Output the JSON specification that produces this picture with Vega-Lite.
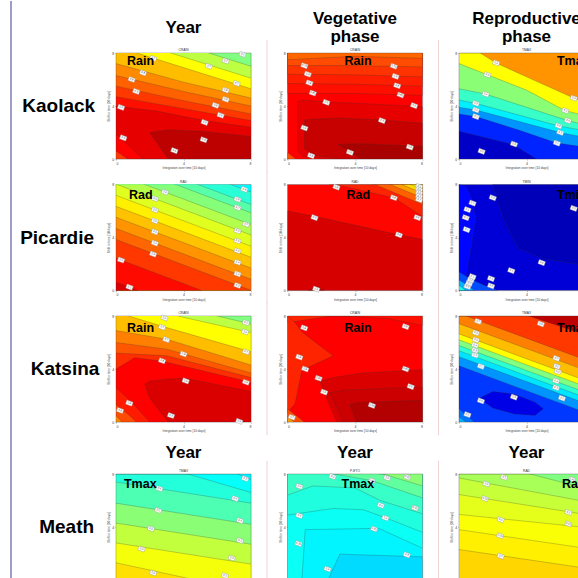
{
"$schema": "https://vega.github.io/schema/vega-lite/v6.json",
"padding": {"left": 10, "top": 0, "right": 0, "bottom": 0},
"background": "white",
"config": {
  "font": "Liberation Sans",
  "view": {"stroke": "#777", "strokeWidth": 0.6},
  "axis": {"labelFontSize": 3.5, "titleFontSize": 3.2, "labelPadding": 1, "titlePadding": 1, "tickSize": 1.2, "tickWidth": 0.4, "domain": false, "grid": false, "labelColor": "#444", "titleColor": "#444", "titleFontWeight": "normal", "tickColor": "#666", "labelFont": "Liberation Sans", "titleFont": "Liberation Sans"}
},
"datasets": {"d": [
{"k":"r","s":"Kaolack","p":"Year","g":0,"v":0.5,"x":0,"lo":0,"hi":8},{"k":"r","s":"Kaolack","p":"Year","g":0,"v":0.5,"x":8,"lo":0,"hi":8},
{"k":"r","s":"Kaolack","p":"Year","g":1,"v":0.56,"x":0,"lo":0,"hi":10.2},{"k":"r","s":"Kaolack","p":"Year","g":1,"v":0.56,"x":8,"lo":0,"hi":7.0},
{"k":"r","s":"Kaolack","p":"Year","g":2,"v":0.625,"x":0,"lo":0,"hi":9.3},{"k":"r","s":"Kaolack","p":"Year","g":2,"v":0.625,"x":8,"lo":0,"hi":6.1},
{"k":"r","s":"Kaolack","p":"Year","g":3,"v":0.69,"x":0,"lo":0,"hi":8.5},{"k":"r","s":"Kaolack","p":"Year","g":3,"v":0.69,"x":8,"lo":0,"hi":5.3},
{"k":"r","s":"Kaolack","p":"Year","g":4,"v":0.74,"x":0,"lo":0,"hi":7.2},{"k":"r","s":"Kaolack","p":"Year","g":4,"v":0.74,"x":4,"lo":0,"hi":5.8},{"k":"r","s":"Kaolack","p":"Year","g":4,"v":0.74,"x":8,"lo":0,"hi":4.6},
{"k":"r","s":"Kaolack","p":"Year","g":5,"v":0.78,"x":0,"lo":0,"hi":6.3},{"k":"r","s":"Kaolack","p":"Year","g":5,"v":0.78,"x":4,"lo":0,"hi":5.1},{"k":"r","s":"Kaolack","p":"Year","g":5,"v":0.78,"x":8,"lo":0,"hi":4.0},
{"k":"r","s":"Kaolack","p":"Year","g":6,"v":0.82,"x":0,"lo":0,"hi":5.5},{"k":"r","s":"Kaolack","p":"Year","g":6,"v":0.82,"x":4,"lo":0,"hi":4.4},{"k":"r","s":"Kaolack","p":"Year","g":6,"v":0.82,"x":8,"lo":0,"hi":3.4},
{"k":"r","s":"Kaolack","p":"Year","g":7,"v":0.86,"x":0,"lo":0,"hi":4.7},{"k":"r","s":"Kaolack","p":"Year","g":7,"v":0.86,"x":4,"lo":0,"hi":3.8},{"k":"r","s":"Kaolack","p":"Year","g":7,"v":0.86,"x":8,"lo":0,"hi":2.9},
{"k":"r","s":"Kaolack","p":"Year","g":8,"v":0.9,"x":0,"lo":0,"hi":4.0},{"k":"r","s":"Kaolack","p":"Year","g":8,"v":0.9,"x":2.5,"lo":0,"hi":3.6},{"k":"r","s":"Kaolack","p":"Year","g":8,"v":0.9,"x":5.25,"lo":0,"hi":2.9},{"k":"r","s":"Kaolack","p":"Year","g":8,"v":0.9,"x":8,"lo":0,"hi":2.4},
{"k":"r","s":"Kaolack","p":"Year","g":9,"v":0.94,"x":2,"lo":2,"hi":2},{"k":"r","s":"Kaolack","p":"Year","g":9,"v":0.94,"x":3.1,"lo":0,"hi":2.2},{"k":"r","s":"Kaolack","p":"Year","g":9,"v":0.94,"x":5,"lo":0,"hi":2.1},{"k":"r","s":"Kaolack","p":"Year","g":9,"v":0.94,"x":8,"lo":0,"hi":1.7},
{"k":"r","s":"Kaolack","p":"Year","g":10,"v":0.875,"x":0,"lo":0,"hi":1.9},{"k":"r","s":"Kaolack","p":"Year","g":10,"v":0.875,"x":1.6,"lo":0,"hi":0},
{"k":"r","s":"Kaolack","p":"Year","g":11,"v":0.82,"x":0,"lo":0,"hi":0.6},{"k":"r","s":"Kaolack","p":"Year","g":11,"v":0.82,"x":0.7,"lo":0,"hi":0},

{"k":"r","s":"Kaolack","p":"Vegetative phase","g":0,"v":0.875,"x":0,"lo":0,"hi":8},{"k":"r","s":"Kaolack","p":"Vegetative phase","g":0,"v":0.875,"x":8,"lo":0,"hi":8},
{"k":"r","s":"Kaolack","p":"Vegetative phase","g":1,"v":0.86,"x":0,"lo":4.95,"hi":8},{"k":"r","s":"Kaolack","p":"Vegetative phase","g":1,"v":0.86,"x":4,"lo":4.95,"hi":8},{"k":"r","s":"Kaolack","p":"Vegetative phase","g":1,"v":0.86,"x":8,"lo":4.8,"hi":8},
{"k":"r","s":"Kaolack","p":"Vegetative phase","g":2,"v":0.845,"x":0,"lo":5.7,"hi":8},{"k":"r","s":"Kaolack","p":"Vegetative phase","g":2,"v":0.845,"x":4,"lo":5.65,"hi":8},{"k":"r","s":"Kaolack","p":"Vegetative phase","g":2,"v":0.845,"x":8,"lo":5.5,"hi":8},
{"k":"r","s":"Kaolack","p":"Vegetative phase","g":3,"v":0.825,"x":0,"lo":6.4,"hi":8},{"k":"r","s":"Kaolack","p":"Vegetative phase","g":3,"v":0.825,"x":4,"lo":6.35,"hi":8},{"k":"r","s":"Kaolack","p":"Vegetative phase","g":3,"v":0.825,"x":8,"lo":6.2,"hi":8},
{"k":"r","s":"Kaolack","p":"Vegetative phase","g":4,"v":0.8,"x":0,"lo":7.05,"hi":8},{"k":"r","s":"Kaolack","p":"Vegetative phase","g":4,"v":0.8,"x":4,"lo":7.05,"hi":8},{"k":"r","s":"Kaolack","p":"Vegetative phase","g":4,"v":0.8,"x":8,"lo":6.95,"hi":8},
{"k":"r","s":"Kaolack","p":"Vegetative phase","g":5,"v":0.775,"x":0,"lo":7.5,"hi":8},{"k":"r","s":"Kaolack","p":"Vegetative phase","g":5,"v":0.775,"x":4,"lo":7.75,"hi":8},{"k":"r","s":"Kaolack","p":"Vegetative phase","g":5,"v":0.775,"x":8,"lo":7.6,"hi":8},
{"k":"r","s":"Kaolack","p":"Vegetative phase","g":6,"v":0.9,"x":0.6,"lo":0.6,"hi":4.3},{"k":"r","s":"Kaolack","p":"Vegetative phase","g":6,"v":0.9,"x":0.9,"lo":0.2,"hi":4.45},{"k":"r","s":"Kaolack","p":"Vegetative phase","g":6,"v":0.9,"x":2.3,"lo":0,"hi":4.3},{"k":"r","s":"Kaolack","p":"Vegetative phase","g":6,"v":0.9,"x":5,"lo":0,"hi":4.15},{"k":"r","s":"Kaolack","p":"Vegetative phase","g":6,"v":0.9,"x":8,"lo":0,"hi":3.95},
{"k":"r","s":"Kaolack","p":"Vegetative phase","g":7,"v":0.93,"x":1,"lo":0.8,"hi":2.95},{"k":"r","s":"Kaolack","p":"Vegetative phase","g":7,"v":0.93,"x":1.5,"lo":0.3,"hi":3.0},{"k":"r","s":"Kaolack","p":"Vegetative phase","g":7,"v":0.93,"x":3,"lo":0,"hi":3.1},{"k":"r","s":"Kaolack","p":"Vegetative phase","g":7,"v":0.93,"x":5.6,"lo":0,"hi":2.95},{"k":"r","s":"Kaolack","p":"Vegetative phase","g":7,"v":0.93,"x":8,"lo":0,"hi":2.7},
{"k":"r","s":"Kaolack","p":"Vegetative phase","g":8,"v":0.96,"x":3,"lo":1.1,"hi":1.1},{"k":"r","s":"Kaolack","p":"Vegetative phase","g":8,"v":0.96,"x":4.4,"lo":0,"hi":1.15},{"k":"r","s":"Kaolack","p":"Vegetative phase","g":8,"v":0.96,"x":8,"lo":0,"hi":0.95},
{"k":"r","s":"Kaolack","p":"Vegetative phase","g":9,"v":0.8,"x":0,"lo":0,"hi":0.5},{"k":"r","s":"Kaolack","p":"Vegetative phase","g":9,"v":0.8,"x":0.5,"lo":0,"hi":0},

{"k":"r","s":"Kaolack","p":"Reproductive phase","g":0,"v":0.07,"x":0,"lo":0,"hi":8},{"k":"r","s":"Kaolack","p":"Reproductive phase","g":0,"v":0.07,"x":8,"lo":0,"hi":8},
{"k":"r","s":"Kaolack","p":"Reproductive phase","g":1,"v":0.16,"x":0,"lo":2.1,"hi":8},{"k":"r","s":"Kaolack","p":"Reproductive phase","g":1,"v":0.16,"x":3.2,"lo":1.1,"hi":8},{"k":"r","s":"Kaolack","p":"Reproductive phase","g":1,"v":0.16,"x":4.6,"lo":0,"hi":8},{"k":"r","s":"Kaolack","p":"Reproductive phase","g":1,"v":0.16,"x":8,"lo":0,"hi":8},
{"k":"r","s":"Kaolack","p":"Reproductive phase","g":2,"v":0.27,"x":0,"lo":3.4,"hi":8},{"k":"r","s":"Kaolack","p":"Reproductive phase","g":2,"v":0.27,"x":1,"lo":3.2,"hi":8},{"k":"r","s":"Kaolack","p":"Reproductive phase","g":2,"v":0.27,"x":3.5,"lo":2.2,"hi":8},{"k":"r","s":"Kaolack","p":"Reproductive phase","g":2,"v":0.27,"x":5.8,"lo":1.2,"hi":8},{"k":"r","s":"Kaolack","p":"Reproductive phase","g":2,"v":0.27,"x":8,"lo":0.8,"hi":8},
{"k":"r","s":"Kaolack","p":"Reproductive phase","g":3,"v":0.36,"x":0,"lo":3.9,"hi":8},{"k":"r","s":"Kaolack","p":"Reproductive phase","g":3,"v":0.36,"x":1,"lo":3.7,"hi":8},{"k":"r","s":"Kaolack","p":"Reproductive phase","g":3,"v":0.36,"x":6,"lo":2.0,"hi":8},{"k":"r","s":"Kaolack","p":"Reproductive phase","g":3,"v":0.36,"x":8,"lo":1.5,"hi":8},
{"k":"r","s":"Kaolack","p":"Reproductive phase","g":4,"v":0.43,"x":0,"lo":4.45,"hi":8},{"k":"r","s":"Kaolack","p":"Reproductive phase","g":4,"v":0.43,"x":1,"lo":4.2,"hi":8},{"k":"r","s":"Kaolack","p":"Reproductive phase","g":4,"v":0.43,"x":5.9,"lo":2.5,"hi":8},{"k":"r","s":"Kaolack","p":"Reproductive phase","g":4,"v":0.43,"x":8,"lo":2.0,"hi":8},
{"k":"r","s":"Kaolack","p":"Reproductive phase","g":5,"v":0.51,"x":0,"lo":5.3,"hi":8},{"k":"r","s":"Kaolack","p":"Reproductive phase","g":5,"v":0.51,"x":1.58,"lo":4.9,"hi":8},{"k":"r","s":"Kaolack","p":"Reproductive phase","g":5,"v":0.51,"x":6.45,"lo":2.9,"hi":8},{"k":"r","s":"Kaolack","p":"Reproductive phase","g":5,"v":0.51,"x":8,"lo":2.4,"hi":8},
{"k":"r","s":"Kaolack","p":"Reproductive phase","g":6,"v":0.625,"x":0,"lo":7.2,"hi":8},{"k":"r","s":"Kaolack","p":"Reproductive phase","g":6,"v":0.625,"x":1.68,"lo":6.36,"hi":8},{"k":"r","s":"Kaolack","p":"Reproductive phase","g":6,"v":0.625,"x":4,"lo":5.2,"hi":8},{"k":"r","s":"Kaolack","p":"Reproductive phase","g":6,"v":0.625,"x":6.3,"lo":3.65,"hi":8},{"k":"r","s":"Kaolack","p":"Reproductive phase","g":6,"v":0.625,"x":8,"lo":3.1,"hi":8},
{"k":"r","s":"Kaolack","p":"Reproductive phase","g":7,"v":0.73,"x":0,"lo":9,"hi":8},{"k":"r","s":"Kaolack","p":"Reproductive phase","g":7,"v":0.73,"x":2.2,"lo":7.25,"hi":8},{"k":"r","s":"Kaolack","p":"Reproductive phase","g":7,"v":0.73,"x":4,"lo":6.2,"hi":8},{"k":"r","s":"Kaolack","p":"Reproductive phase","g":7,"v":0.73,"x":6.8,"lo":4.6,"hi":8},{"k":"r","s":"Kaolack","p":"Reproductive phase","g":7,"v":0.73,"x":8,"lo":4.1,"hi":8},

{"k":"r","s":"Picardie","p":"Year","g":0,"v":0.37,"x":0,"lo":0,"hi":8},{"k":"r","s":"Picardie","p":"Year","g":0,"v":0.37,"x":8,"lo":0,"hi":8},
{"k":"r","s":"Picardie","p":"Year","g":1,"v":0.415,"x":0,"lo":0,"hi":11.27},{"k":"r","s":"Picardie","p":"Year","g":1,"v":0.415,"x":8,"lo":0,"hi":7.43},
{"k":"r","s":"Picardie","p":"Year","g":2,"v":0.46,"x":0,"lo":0,"hi":10.33},{"k":"r","s":"Picardie","p":"Year","g":2,"v":0.46,"x":8,"lo":0,"hi":6.49},
{"k":"r","s":"Picardie","p":"Year","g":3,"v":0.505,"x":0,"lo":0,"hi":9.7},{"k":"r","s":"Picardie","p":"Year","g":3,"v":0.505,"x":8,"lo":0,"hi":5.86},
{"k":"r","s":"Picardie","p":"Year","g":4,"v":0.55,"x":0,"lo":0,"hi":8.82},{"k":"r","s":"Picardie","p":"Year","g":4,"v":0.55,"x":8,"lo":0,"hi":4.98},
{"k":"r","s":"Picardie","p":"Year","g":5,"v":0.595,"x":0,"lo":0,"hi":8.03},{"k":"r","s":"Picardie","p":"Year","g":5,"v":0.595,"x":8,"lo":0,"hi":4.19},
{"k":"r","s":"Picardie","p":"Year","g":6,"v":0.64,"x":0,"lo":0,"hi":7.18},{"k":"r","s":"Picardie","p":"Year","g":6,"v":0.64,"x":8,"lo":0,"hi":3.34},
{"k":"r","s":"Picardie","p":"Year","g":7,"v":0.685,"x":0,"lo":0,"hi":6.35},{"k":"r","s":"Picardie","p":"Year","g":7,"v":0.685,"x":8,"lo":0,"hi":2.51},
{"k":"r","s":"Picardie","p":"Year","g":8,"v":0.73,"x":0,"lo":0,"hi":5.53},{"k":"r","s":"Picardie","p":"Year","g":8,"v":0.73,"x":8,"lo":0,"hi":1.69},
{"k":"r","s":"Picardie","p":"Year","g":9,"v":0.775,"x":0,"lo":0,"hi":4.68},{"k":"r","s":"Picardie","p":"Year","g":9,"v":0.775,"x":8,"lo":0,"hi":0.84},
{"k":"r","s":"Picardie","p":"Year","g":10,"v":0.82,"x":0,"lo":0,"hi":3.85},{"k":"r","s":"Picardie","p":"Year","g":10,"v":0.82,"x":8,"lo":0,"hi":0.01},
{"k":"r","s":"Picardie","p":"Year","g":11,"v":0.865,"x":0,"lo":0,"hi":2.44},{"k":"r","s":"Picardie","p":"Year","g":11,"v":0.865,"x":5.08,"lo":0,"hi":0},
{"k":"r","s":"Picardie","p":"Year","g":12,"v":0.91,"x":0,"lo":0,"hi":0.63},{"k":"r","s":"Picardie","p":"Year","g":12,"v":0.91,"x":1.3,"lo":0,"hi":0},

{"k":"r","s":"Picardie","p":"Vegetative phase","g":0,"v":0.87,"x":0,"lo":0,"hi":8},{"k":"r","s":"Picardie","p":"Vegetative phase","g":0,"v":0.87,"x":8,"lo":0,"hi":8},
{"k":"r","s":"Picardie","p":"Vegetative phase","g":1,"v":0.915,"x":0,"lo":0,"hi":6.0},{"k":"r","s":"Picardie","p":"Vegetative phase","g":1,"v":0.915,"x":1.6,"lo":0,"hi":5.6},{"k":"r","s":"Picardie","p":"Vegetative phase","g":1,"v":0.915,"x":6.6,"lo":0,"hi":4.2},{"k":"r","s":"Picardie","p":"Vegetative phase","g":1,"v":0.915,"x":8,"lo":0,"hi":3.85},
{"k":"r","s":"Picardie","p":"Vegetative phase","g":2,"v":0.94,"x":1.2,"lo":0,"hi":0},{"k":"r","s":"Picardie","p":"Vegetative phase","g":2,"v":0.94,"x":1.7,"lo":0,"hi":0.25},{"k":"r","s":"Picardie","p":"Vegetative phase","g":2,"v":0.94,"x":2.2,"lo":0,"hi":0},
{"k":"r","s":"Picardie","p":"Vegetative phase","g":3,"v":0.84,"x":2.5,"lo":8.1,"hi":8},{"k":"r","s":"Picardie","p":"Vegetative phase","g":3,"v":0.84,"x":6.3,"lo":7.0,"hi":8},{"k":"r","s":"Picardie","p":"Vegetative phase","g":3,"v":0.84,"x":8,"lo":5.6,"hi":8},
{"k":"r","s":"Picardie","p":"Vegetative phase","g":4,"v":0.78,"x":5.0,"lo":8.1,"hi":8},{"k":"r","s":"Picardie","p":"Vegetative phase","g":4,"v":0.78,"x":8,"lo":6.5,"hi":8},
{"k":"r","s":"Picardie","p":"Vegetative phase","g":5,"v":0.72,"x":5.9,"lo":8.1,"hi":8},{"k":"r","s":"Picardie","p":"Vegetative phase","g":5,"v":0.72,"x":8,"lo":7.0,"hi":8},
{"k":"r","s":"Picardie","p":"Vegetative phase","g":6,"v":0.66,"x":6.6,"lo":8.1,"hi":8},{"k":"r","s":"Picardie","p":"Vegetative phase","g":6,"v":0.66,"x":8,"lo":7.35,"hi":8},
{"k":"r","s":"Picardie","p":"Vegetative phase","g":7,"v":0.6,"x":7.1,"lo":8.1,"hi":8},{"k":"r","s":"Picardie","p":"Vegetative phase","g":7,"v":0.6,"x":8,"lo":7.65,"hi":8},
{"k":"r","s":"Picardie","p":"Vegetative phase","g":8,"v":0.53,"x":7.6,"lo":8.1,"hi":8},{"k":"r","s":"Picardie","p":"Vegetative phase","g":8,"v":0.53,"x":8,"lo":7.9,"hi":8},

{"k":"r","s":"Picardie","p":"Reproductive phase","g":0,"v":0.085,"x":0,"lo":0,"hi":8},{"k":"r","s":"Picardie","p":"Reproductive phase","g":0,"v":0.085,"x":8,"lo":0,"hi":8},
{"k":"r","s":"Picardie","p":"Reproductive phase","g":1,"v":0.055,"x":2,"lo":7.9,"hi":8},{"k":"r","s":"Picardie","p":"Reproductive phase","g":1,"v":0.055,"x":2.6,"lo":5.5,"hi":8},{"k":"r","s":"Picardie","p":"Reproductive phase","g":1,"v":0.055,"x":3.5,"lo":3.2,"hi":8},{"k":"r","s":"Picardie","p":"Reproductive phase","g":1,"v":0.055,"x":5,"lo":2.4,"hi":8},{"k":"r","s":"Picardie","p":"Reproductive phase","g":1,"v":0.055,"x":8,"lo":1.8,"hi":8},
{"k":"r","s":"Picardie","p":"Reproductive phase","g":2,"v":0.13,"x":0,"lo":0,"hi":8},{"k":"r","s":"Picardie","p":"Reproductive phase","g":2,"v":0.13,"x":0.4,"lo":0.8,"hi":7.9},{"k":"r","s":"Picardie","p":"Reproductive phase","g":2,"v":0.13,"x":0.75,"lo":3.5,"hi":7.0},{"k":"r","s":"Picardie","p":"Reproductive phase","g":2,"v":0.13,"x":1,"lo":5.5,"hi":5.5},
{"k":"r","s":"Picardie","p":"Reproductive phase","g":3,"v":0.2,"x":0,"lo":0,"hi":1.4},{"k":"r","s":"Picardie","p":"Reproductive phase","g":3,"v":0.2,"x":0.8,"lo":0,"hi":0.8},{"k":"r","s":"Picardie","p":"Reproductive phase","g":3,"v":0.2,"x":1.5,"lo":0,"hi":0.4},{"k":"r","s":"Picardie","p":"Reproductive phase","g":3,"v":0.2,"x":2.3,"lo":0,"hi":0},
{"k":"r","s":"Picardie","p":"Reproductive phase","g":4,"v":0.3,"x":0,"lo":0,"hi":0.8},{"k":"r","s":"Picardie","p":"Reproductive phase","g":4,"v":0.3,"x":0.5,"lo":0,"hi":0.4},{"k":"r","s":"Picardie","p":"Reproductive phase","g":4,"v":0.3,"x":0.9,"lo":0,"hi":0},
{"k":"r","s":"Picardie","p":"Reproductive phase","g":5,"v":0.4,"x":0,"lo":0,"hi":0.4},{"k":"r","s":"Picardie","p":"Reproductive phase","g":5,"v":0.4,"x":0.4,"lo":0,"hi":0},

{"k":"r","s":"Katsina","p":"Year","g":0,"v":0.5,"x":0,"lo":0,"hi":8},{"k":"r","s":"Katsina","p":"Year","g":0,"v":0.5,"x":8,"lo":0,"hi":8},
{"k":"r","s":"Katsina","p":"Year","g":1,"v":0.56,"x":0,"lo":0,"hi":10},{"k":"r","s":"Katsina","p":"Year","g":1,"v":0.56,"x":4,"lo":0,"hi":8.6},{"k":"r","s":"Katsina","p":"Year","g":1,"v":0.56,"x":8,"lo":0,"hi":7.4},
{"k":"r","s":"Katsina","p":"Year","g":2,"v":0.625,"x":0,"lo":0,"hi":9.2},{"k":"r","s":"Katsina","p":"Year","g":2,"v":0.625,"x":4,"lo":0,"hi":7.9},{"k":"r","s":"Katsina","p":"Year","g":2,"v":0.625,"x":8,"lo":0,"hi":6.75},
{"k":"r","s":"Katsina","p":"Year","g":3,"v":0.69,"x":0,"lo":0,"hi":8.3},{"k":"r","s":"Katsina","p":"Year","g":3,"v":0.69,"x":2.8,"lo":0,"hi":7.2},{"k":"r","s":"Katsina","p":"Year","g":3,"v":0.69,"x":8,"lo":0,"hi":5.3},
{"k":"r","s":"Katsina","p":"Year","g":4,"v":0.75,"x":0,"lo":0,"hi":6.9},{"k":"r","s":"Katsina","p":"Year","g":4,"v":0.75,"x":3,"lo":0,"hi":6.25},{"k":"r","s":"Katsina","p":"Year","g":4,"v":0.75,"x":8,"lo":0,"hi":4.3},
{"k":"r","s":"Katsina","p":"Year","g":5,"v":0.79,"x":0,"lo":0,"hi":6.0},{"k":"r","s":"Katsina","p":"Year","g":5,"v":0.79,"x":3,"lo":0,"hi":5.5},{"k":"r","s":"Katsina","p":"Year","g":5,"v":0.79,"x":8,"lo":0,"hi":3.7},
{"k":"r","s":"Katsina","p":"Year","g":6,"v":0.83,"x":0,"lo":0,"hi":5.2},{"k":"r","s":"Katsina","p":"Year","g":6,"v":0.83,"x":3,"lo":0,"hi":5.0},{"k":"r","s":"Katsina","p":"Year","g":6,"v":0.83,"x":8,"lo":0,"hi":3.35},
{"k":"r","s":"Katsina","p":"Year","g":7,"v":0.875,"x":0,"lo":0,"hi":4.0},{"k":"r","s":"Katsina","p":"Year","g":7,"v":0.875,"x":1.1,"lo":0,"hi":4.85},{"k":"r","s":"Katsina","p":"Year","g":7,"v":0.875,"x":2.7,"lo":0,"hi":4.6},{"k":"r","s":"Katsina","p":"Year","g":7,"v":0.875,"x":8,"lo":0,"hi":3.0},
{"k":"r","s":"Katsina","p":"Year","g":8,"v":0.91,"x":1.7,"lo":2.85,"hi":2.85},{"k":"r","s":"Katsina","p":"Year","g":8,"v":0.91,"x":2,"lo":1.8,"hi":3.1},{"k":"r","s":"Katsina","p":"Year","g":8,"v":0.91,"x":3.1,"lo":0,"hi":3.25},{"k":"r","s":"Katsina","p":"Year","g":8,"v":0.91,"x":4.1,"lo":0,"hi":3.3},{"k":"r","s":"Katsina","p":"Year","g":8,"v":0.91,"x":8,"lo":0,"hi":2.3},
{"k":"r","s":"Katsina","p":"Year","g":9,"v":0.85,"x":0,"lo":0,"hi":2.6},{"k":"r","s":"Katsina","p":"Year","g":9,"v":0.85,"x":1,"lo":0,"hi":1.4},{"k":"r","s":"Katsina","p":"Year","g":9,"v":0.85,"x":2,"lo":0,"hi":0},
{"k":"r","s":"Katsina","p":"Year","g":10,"v":0.8,"x":0,"lo":0,"hi":1.3},{"k":"r","s":"Katsina","p":"Year","g":10,"v":0.8,"x":0.8,"lo":0,"hi":0.5},{"k":"r","s":"Katsina","p":"Year","g":10,"v":0.8,"x":1.2,"lo":0,"hi":0},
{"k":"r","s":"Katsina","p":"Year","g":11,"v":0.74,"x":0,"lo":0,"hi":0.5},{"k":"r","s":"Katsina","p":"Year","g":11,"v":0.74,"x":0.35,"lo":0,"hi":0},

{"k":"r","s":"Katsina","p":"Vegetative phase","g":0,"v":0.875,"x":0,"lo":0,"hi":8},{"k":"r","s":"Katsina","p":"Vegetative phase","g":0,"v":0.875,"x":8,"lo":0,"hi":8},
{"k":"r","s":"Katsina","p":"Vegetative phase","g":1,"v":0.84,"x":0,"lo":7.5,"hi":8},{"k":"r","s":"Katsina","p":"Vegetative phase","g":1,"v":0.84,"x":2.8,"lo":8.05,"hi":8},
{"k":"r","s":"Katsina","p":"Vegetative phase","g":2,"v":0.86,"x":2.8,"lo":8.05,"hi":8},{"k":"r","s":"Katsina","p":"Vegetative phase","g":2,"v":0.86,"x":6,"lo":7.8,"hi":8},{"k":"r","s":"Katsina","p":"Vegetative phase","g":2,"v":0.86,"x":8,"lo":7.3,"hi":8},
{"k":"r","s":"Katsina","p":"Vegetative phase","g":3,"v":0.84,"x":0,"lo":0.7,"hi":8},{"k":"r","s":"Katsina","p":"Vegetative phase","g":3,"v":0.84,"x":0.45,"lo":1.4,"hi":7.5},{"k":"r","s":"Katsina","p":"Vegetative phase","g":3,"v":0.84,"x":0.85,"lo":3.9,"hi":6.8},{"k":"r","s":"Katsina","p":"Vegetative phase","g":3,"v":0.84,"x":2.7,"lo":5,"hi":5},
{"k":"r","s":"Katsina","p":"Vegetative phase","g":4,"v":0.91,"x":1.9,"lo":3.1,"hi":3.1},{"k":"r","s":"Katsina","p":"Vegetative phase","g":4,"v":0.91,"x":2.9,"lo":0,"hi":3.4},{"k":"r","s":"Katsina","p":"Vegetative phase","g":4,"v":0.91,"x":4.4,"lo":0,"hi":3.7},{"k":"r","s":"Katsina","p":"Vegetative phase","g":4,"v":0.91,"x":8,"lo":0,"hi":3.95},
{"k":"r","s":"Katsina","p":"Vegetative phase","g":5,"v":0.925,"x":2.5,"lo":2.2,"hi":2.2},{"k":"r","s":"Katsina","p":"Vegetative phase","g":5,"v":0.925,"x":3.3,"lo":0,"hi":2.4},{"k":"r","s":"Katsina","p":"Vegetative phase","g":5,"v":0.925,"x":8,"lo":0,"hi":2.65},
{"k":"r","s":"Katsina","p":"Vegetative phase","g":6,"v":0.95,"x":3.7,"lo":1.3,"hi":1.3},{"k":"r","s":"Katsina","p":"Vegetative phase","g":6,"v":0.95,"x":4.1,"lo":0,"hi":1.45},{"k":"r","s":"Katsina","p":"Vegetative phase","g":6,"v":0.95,"x":8,"lo":0,"hi":1.65},
{"k":"r","s":"Katsina","p":"Vegetative phase","g":7,"v":0.8,"x":0,"lo":0,"hi":1},{"k":"r","s":"Katsina","p":"Vegetative phase","g":7,"v":0.8,"x":1,"lo":0,"hi":0},
{"k":"r","s":"Katsina","p":"Vegetative phase","g":8,"v":0.72,"x":0,"lo":0,"hi":0.4},{"k":"r","s":"Katsina","p":"Vegetative phase","g":8,"v":0.72,"x":0.4,"lo":0,"hi":0},

{"k":"r","s":"Katsina","p":"Reproductive phase","g":0,"v":0.18,"x":0,"lo":0,"hi":8},{"k":"r","s":"Katsina","p":"Reproductive phase","g":0,"v":0.18,"x":8,"lo":0,"hi":8},
{"k":"r","s":"Katsina","p":"Reproductive phase","g":1,"v":0.1,"x":1.2,"lo":1.8,"hi":1.8},{"k":"r","s":"Katsina","p":"Reproductive phase","g":1,"v":0.1,"x":2,"lo":1.05,"hi":2.3},{"k":"r","s":"Katsina","p":"Reproductive phase","g":1,"v":0.1,"x":3.3,"lo":0.6,"hi":2.1},{"k":"r","s":"Katsina","p":"Reproductive phase","g":1,"v":0.1,"x":4.5,"lo":0.5,"hi":1.5},{"k":"r","s":"Katsina","p":"Reproductive phase","g":1,"v":0.1,"x":5,"lo":1,"hi":1},
{"k":"r","s":"Katsina","p":"Reproductive phase","g":2,"v":0.24,"x":0,"lo":0,"hi":1},{"k":"r","s":"Katsina","p":"Reproductive phase","g":2,"v":0.24,"x":0.9,"lo":0,"hi":0},
{"k":"r","s":"Katsina","p":"Reproductive phase","g":3,"v":0.3,"x":0,"lo":0,"hi":0.4},{"k":"r","s":"Katsina","p":"Reproductive phase","g":3,"v":0.3,"x":0.4,"lo":0,"hi":0},
{"k":"r","s":"Katsina","p":"Reproductive phase","g":4,"v":0.27,"x":0,"lo":4.24,"hi":8},{"k":"r","s":"Katsina","p":"Reproductive phase","g":4,"v":0.27,"x":8,"lo":0.48,"hi":8},
{"k":"r","s":"Katsina","p":"Reproductive phase","g":5,"v":0.35,"x":0,"lo":4.93,"hi":8},{"k":"r","s":"Katsina","p":"Reproductive phase","g":5,"v":0.35,"x":8,"lo":1.17,"hi":8},
{"k":"r","s":"Katsina","p":"Reproductive phase","g":6,"v":0.42,"x":0,"lo":5.38,"hi":8},{"k":"r","s":"Katsina","p":"Reproductive phase","g":6,"v":0.42,"x":8,"lo":1.6,"hi":8},
{"k":"r","s":"Katsina","p":"Reproductive phase","g":7,"v":0.5,"x":0,"lo":5.77,"hi":8},{"k":"r","s":"Katsina","p":"Reproductive phase","g":7,"v":0.5,"x":8,"lo":2.0,"hi":8},
{"k":"r","s":"Katsina","p":"Reproductive phase","g":8,"v":0.625,"x":0,"lo":6.2,"hi":8},{"k":"r","s":"Katsina","p":"Reproductive phase","g":8,"v":0.625,"x":8,"lo":2.44,"hi":8},
{"k":"r","s":"Katsina","p":"Reproductive phase","g":9,"v":0.69,"x":0,"lo":6.65,"hi":8},{"k":"r","s":"Katsina","p":"Reproductive phase","g":9,"v":0.69,"x":8,"lo":2.89,"hi":8},
{"k":"r","s":"Katsina","p":"Reproductive phase","g":10,"v":0.75,"x":0,"lo":7.42,"hi":8},{"k":"r","s":"Katsina","p":"Reproductive phase","g":10,"v":0.75,"x":8,"lo":3.66,"hi":8},
{"k":"r","s":"Katsina","p":"Reproductive phase","g":11,"v":0.82,"x":0,"lo":8.2,"hi":8},{"k":"r","s":"Katsina","p":"Reproductive phase","g":11,"v":0.82,"x":8,"lo":4.44,"hi":8},
{"k":"r","s":"Katsina","p":"Reproductive phase","g":12,"v":0.94,"x":0,"lo":9.74,"hi":8},{"k":"r","s":"Katsina","p":"Reproductive phase","g":12,"v":0.94,"x":8,"lo":6.38,"hi":8},

{"k":"r","s":"Meath","p":"Year (Tmax)","g":0,"v":0.655,"x":0,"lo":0,"hi":8},{"k":"r","s":"Meath","p":"Year (Tmax)","g":0,"v":0.655,"x":8,"lo":0,"hi":8},
{"k":"r","s":"Meath","p":"Year (Tmax)","g":1,"v":0.615,"x":0,"lo":1.3,"hi":8},{"k":"r","s":"Meath","p":"Year (Tmax)","g":1,"v":0.615,"x":8,"lo":-0.9,"hi":8},
{"k":"r","s":"Meath","p":"Year (Tmax)","g":2,"v":0.565,"x":0,"lo":2.8,"hi":8},{"k":"r","s":"Meath","p":"Year (Tmax)","g":2,"v":0.565,"x":8,"lo":1.2,"hi":8},
{"k":"r","s":"Meath","p":"Year (Tmax)","g":3,"v":0.51,"x":0,"lo":4.3,"hi":8},{"k":"r","s":"Meath","p":"Year (Tmax)","g":3,"v":0.51,"x":8,"lo":2.7,"hi":8},
{"k":"r","s":"Meath","p":"Year (Tmax)","g":4,"v":0.45,"x":0,"lo":5.8,"hi":8},{"k":"r","s":"Meath","p":"Year (Tmax)","g":4,"v":0.45,"x":8,"lo":4.2,"hi":8},
{"k":"r","s":"Meath","p":"Year (Tmax)","g":5,"v":0.41,"x":0,"lo":7.4,"hi":8},{"k":"r","s":"Meath","p":"Year (Tmax)","g":5,"v":0.41,"x":8,"lo":5.8,"hi":8},
{"k":"r","s":"Meath","p":"Year (Tmax)","g":6,"v":0.38,"x":0,"lo":9.6,"hi":8},{"k":"r","s":"Meath","p":"Year (Tmax)","g":6,"v":0.38,"x":8,"lo":6.6,"hi":8},
{"k":"r","s":"Meath","p":"Year (Tmax)","g":7,"v":0.36,"x":0,"lo":11.6,"hi":8},{"k":"r","s":"Meath","p":"Year (Tmax)","g":7,"v":0.36,"x":8,"lo":7.6,"hi":8},

{"k":"r","s":"Meath","p":"Year (P-ETo)","g":0,"v":0.365,"x":0,"lo":0,"hi":8},{"k":"r","s":"Meath","p":"Year (P-ETo)","g":0,"v":0.365,"x":8,"lo":0,"hi":8},
{"k":"r","s":"Meath","p":"Year (P-ETo)","g":1,"v":0.34,"x":2.4,"lo":0,"hi":0},{"k":"r","s":"Meath","p":"Year (P-ETo)","g":1,"v":0.34,"x":3.1,"lo":0,"hi":1.95},{"k":"r","s":"Meath","p":"Year (P-ETo)","g":1,"v":0.34,"x":8,"lo":0,"hi":1.75},
{"k":"r","s":"Meath","p":"Year (P-ETo)","g":2,"v":0.385,"x":0,"lo":0,"hi":8},{"k":"r","s":"Meath","p":"Year (P-ETo)","g":2,"v":0.385,"x":0.85,"lo":0,"hi":8},{"k":"r","s":"Meath","p":"Year (P-ETo)","g":2,"v":0.385,"x":1.05,"lo":3.8,"hi":8},{"k":"r","s":"Meath","p":"Year (P-ETo)","g":2,"v":0.385,"x":5.4,"lo":3.9,"hi":8},{"k":"r","s":"Meath","p":"Year (P-ETo)","g":2,"v":0.385,"x":8,"lo":2.4,"hi":8},
{"k":"r","s":"Meath","p":"Year (P-ETo)","g":3,"v":0.405,"x":0,"lo":4.9,"hi":8},{"k":"r","s":"Meath","p":"Year (P-ETo)","g":3,"v":0.405,"x":2.7,"lo":5.4,"hi":8},{"k":"r","s":"Meath","p":"Year (P-ETo)","g":3,"v":0.405,"x":4.5,"lo":5.3,"hi":8},{"k":"r","s":"Meath","p":"Year (P-ETo)","g":3,"v":0.405,"x":5.8,"lo":4.7,"hi":8},{"k":"r","s":"Meath","p":"Year (P-ETo)","g":3,"v":0.405,"x":8,"lo":3.6,"hi":8},
{"k":"r","s":"Meath","p":"Year (P-ETo)","g":4,"v":0.43,"x":0,"lo":6.4,"hi":8},{"k":"r","s":"Meath","p":"Year (P-ETo)","g":4,"v":0.43,"x":1.5,"lo":7.1,"hi":8},{"k":"r","s":"Meath","p":"Year (P-ETo)","g":4,"v":0.43,"x":4,"lo":6.95,"hi":8},{"k":"r","s":"Meath","p":"Year (P-ETo)","g":4,"v":0.43,"x":5.5,"lo":6,"hi":8},{"k":"r","s":"Meath","p":"Year (P-ETo)","g":4,"v":0.43,"x":8,"lo":5,"hi":8},
{"k":"r","s":"Meath","p":"Year (P-ETo)","g":5,"v":0.47,"x":2.6,"lo":8.05,"hi":8},{"k":"r","s":"Meath","p":"Year (P-ETo)","g":5,"v":0.47,"x":5,"lo":7.5,"hi":8},{"k":"r","s":"Meath","p":"Year (P-ETo)","g":5,"v":0.47,"x":8,"lo":6.2,"hi":8},
{"k":"r","s":"Meath","p":"Year (P-ETo)","g":6,"v":0.51,"x":5.4,"lo":8.1,"hi":8},{"k":"r","s":"Meath","p":"Year (P-ETo)","g":6,"v":0.51,"x":8,"lo":7.1,"hi":8},

{"k":"r","s":"Meath","p":"Year (Rad)","g":0,"v":0.665,"x":0,"lo":0,"hi":8},{"k":"r","s":"Meath","p":"Year (Rad)","g":0,"v":0.665,"x":8,"lo":0,"hi":8},
{"k":"r","s":"Meath","p":"Year (Rad)","g":1,"v":0.64,"x":0,"lo":2.3,"hi":8},{"k":"r","s":"Meath","p":"Year (Rad)","g":1,"v":0.64,"x":8,"lo":0.8,"hi":8},
{"k":"r","s":"Meath","p":"Year (Rad)","g":2,"v":0.62,"x":0,"lo":3.8,"hi":8},{"k":"r","s":"Meath","p":"Year (Rad)","g":2,"v":0.62,"x":8,"lo":2.3,"hi":8},
{"k":"r","s":"Meath","p":"Year (Rad)","g":3,"v":0.6,"x":0,"lo":4.95,"hi":8},{"k":"r","s":"Meath","p":"Year (Rad)","g":3,"v":0.6,"x":8,"lo":3.9,"hi":8},
{"k":"r","s":"Meath","p":"Year (Rad)","g":4,"v":0.57,"x":0,"lo":6.45,"hi":8},{"k":"r","s":"Meath","p":"Year (Rad)","g":4,"v":0.57,"x":8,"lo":4.85,"hi":8},
{"k":"r","s":"Meath","p":"Year (Rad)","g":5,"v":0.54,"x":0,"lo":7.7,"hi":8},{"k":"r","s":"Meath","p":"Year (Rad)","g":5,"v":0.54,"x":8,"lo":5.8,"hi":8},
{"k":"r","s":"Meath","p":"Year (Rad)","g":6,"v":0.5,"x":0,"lo":9.4,"hi":8},{"k":"r","s":"Meath","p":"Year (Rad)","g":6,"v":0.5,"x":8,"lo":6.75,"hi":8},

{"k":"o","s":"Kaolack","p":"Year","x":0.65,"y":7.4,"t":"Rain"},
{"k":"o","s":"Kaolack","p":"Vegetative phase","x":3.38,"y":7.4,"t":"Rain"},
{"k":"o","s":"Kaolack","p":"Reproductive phase","x":5.8,"y":7.4,"t":"Tmax"},
{"k":"o","s":"Picardie","p":"Year","x":0.77,"y":7.2,"t":"Rad"},
{"k":"o","s":"Picardie","p":"Vegetative phase","x":3.5,"y":7.2,"t":"Rad"},
{"k":"o","s":"Picardie","p":"Reproductive phase","x":5.8,"y":7.2,"t":"Tmin"},
{"k":"o","s":"Katsina","p":"Year","x":0.65,"y":7.1,"t":"Rain"},
{"k":"o","s":"Katsina","p":"Vegetative phase","x":3.38,"y":7.1,"t":"Rain"},
{"k":"o","s":"Katsina","p":"Reproductive phase","x":5.8,"y":7.1,"t":"Tmax"},
{"k":"o","s":"Meath","p":"Year (Tmax)","x":0.47,"y":7.25,"t":"Tmax"},
{"k":"o","s":"Meath","p":"Year (P-ETo)","x":3.2,"y":7.25,"t":"Tmax"},
{"k":"o","s":"Meath","p":"Year (Rad)","x":6.1,"y":7.25,"t":"Rad"},

{"k":"t","s":"Kaolack","p":"Year","t":"CRAIN"},{"k":"t","s":"Kaolack","p":"Vegetative phase","t":"CRAIN"},{"k":"t","s":"Kaolack","p":"Reproductive phase","t":"TMAX"},
{"k":"t","s":"Picardie","p":"Year","t":"RAD"},{"k":"t","s":"Picardie","p":"Vegetative phase","t":"RAD"},{"k":"t","s":"Picardie","p":"Reproductive phase","t":"TMIN"},
{"k":"t","s":"Katsina","p":"Year","t":"CRAIN"},{"k":"t","s":"Katsina","p":"Vegetative phase","t":"CRAIN"},{"k":"t","s":"Katsina","p":"Reproductive phase","t":"TMAX"},
{"k":"t","s":"Meath","p":"Year (Tmax)","t":"TMAX"},{"k":"t","s":"Meath","p":"Year (P-ETo)","t":"P-ETO"},{"k":"t","s":"Meath","p":"Year (Rad)","t":"RAD"},

{"k":"l","s":"Kaolack","p":"Year","x":2.2,"y":7.6,"t":"0.7"},{"k":"l","s":"Kaolack","p":"Year","x":1.6,"y":6.5,"t":"0.8"},{"k":"l","s":"Kaolack","p":"Year","x":0.93,"y":6.0,"t":"0.8"},{"k":"l","s":"Kaolack","p":"Year","x":1.2,"y":5.1,"t":"0.9"},{"k":"l","s":"Kaolack","p":"Year","x":0.3,"y":3.9,"t":"0.9"},{"k":"l","s":"Kaolack","p":"Year","x":0.43,"y":1.6,"t":"0.9"},{"k":"l","s":"Kaolack","p":"Year","x":3.46,"y":0.63,"t":"0.9"},{"k":"l","s":"Kaolack","p":"Year","x":5.2,"y":1.45,"t":"0.9"},{"k":"l","s":"Kaolack","p":"Year","x":5.25,"y":2.77,"t":"0.9"},{"k":"l","s":"Kaolack","p":"Year","x":6.2,"y":3.3,"t":"0.9"},{"k":"l","s":"Kaolack","p":"Year","x":5.9,"y":4.05,"t":"0.8"},{"k":"l","s":"Kaolack","p":"Year","x":6.5,"y":4.5,"t":"0.8"},{"k":"l","s":"Kaolack","p":"Year","x":6.5,"y":5.2,"t":"0.8"},{"k":"l","s":"Kaolack","p":"Year","x":7.15,"y":5.7,"t":"0.7"},{"k":"l","s":"Kaolack","p":"Year","x":5.5,"y":7.0,"t":"0.7"},{"k":"l","s":"Kaolack","p":"Year","x":6.5,"y":7.4,"t":"0.7"},{"k":"l","s":"Kaolack","p":"Year","x":7.5,"y":7.9,"t":"0.6"},
{"k":"l","s":"Kaolack","p":"Vegetative phase","x":1.0,"y":7.04,"t":"0.75"},{"k":"l","s":"Kaolack","p":"Vegetative phase","x":1.2,"y":6.4,"t":"0.8"},{"k":"l","s":"Kaolack","p":"Vegetative phase","x":1.3,"y":5.74,"t":"0.8"},{"k":"l","s":"Kaolack","p":"Vegetative phase","x":1.5,"y":4.98,"t":"0.85"},{"k":"l","s":"Kaolack","p":"Vegetative phase","x":2.3,"y":4.28,"t":"0.9"},{"k":"l","s":"Kaolack","p":"Vegetative phase","x":1.0,"y":2.34,"t":"0.9"},{"k":"l","s":"Kaolack","p":"Vegetative phase","x":1.4,"y":0.25,"t":"0.9"},{"k":"l","s":"Kaolack","p":"Vegetative phase","x":3.7,"y":0.5,"t":"0.9"},{"k":"l","s":"Kaolack","p":"Vegetative phase","x":7.25,"y":0.9,"t":"0.9"},{"k":"l","s":"Kaolack","p":"Vegetative phase","x":5.6,"y":2.9,"t":"0.9"},{"k":"l","s":"Kaolack","p":"Vegetative phase","x":7.5,"y":4.03,"t":"0.9"},{"k":"l","s":"Kaolack","p":"Vegetative phase","x":6.7,"y":4.83,"t":"0.85"},{"k":"l","s":"Kaolack","p":"Vegetative phase","x":6.5,"y":5.53,"t":"0.8"},{"k":"l","s":"Kaolack","p":"Vegetative phase","x":6.4,"y":6.24,"t":"0.8"},{"k":"l","s":"Kaolack","p":"Vegetative phase","x":6.3,"y":7.0,"t":"0.75"},
{"k":"l","s":"Kaolack","p":"Reproductive phase","x":2.2,"y":7.25,"t":"0.6"},{"k":"l","s":"Kaolack","p":"Reproductive phase","x":1.68,"y":6.36,"t":"0.5"},{"k":"l","s":"Kaolack","p":"Reproductive phase","x":1.58,"y":4.9,"t":"0.4"},{"k":"l","s":"Kaolack","p":"Reproductive phase","x":1.0,"y":4.2,"t":"0.3"},{"k":"l","s":"Kaolack","p":"Reproductive phase","x":1.0,"y":3.7,"t":"0.2"},{"k":"l","s":"Kaolack","p":"Reproductive phase","x":1.0,"y":3.2,"t":"0.1"},{"k":"l","s":"Kaolack","p":"Reproductive phase","x":1.34,"y":0.58,"t":"0.0"},{"k":"l","s":"Kaolack","p":"Reproductive phase","x":3.26,"y":1.13,"t":"0.0"},{"k":"l","s":"Kaolack","p":"Reproductive phase","x":5.8,"y":1.2,"t":"0.1"},{"k":"l","s":"Kaolack","p":"Reproductive phase","x":6.0,"y":2.0,"t":"0.2"},{"k":"l","s":"Kaolack","p":"Reproductive phase","x":5.9,"y":2.5,"t":"0.3"},{"k":"l","s":"Kaolack","p":"Reproductive phase","x":6.45,"y":2.9,"t":"0.4"},{"k":"l","s":"Kaolack","p":"Reproductive phase","x":6.3,"y":3.65,"t":"0.5"},{"k":"l","s":"Kaolack","p":"Reproductive phase","x":6.8,"y":4.6,"t":"0.6"},
{"k":"l","s":"Picardie","p":"Year","x":2.3,"y":6.93,"t":"0.6"},{"k":"l","s":"Picardie","p":"Year","x":2.3,"y":6.08,"t":"0.5"},{"k":"l","s":"Picardie","p":"Year","x":2.3,"y":5.25,"t":"0.5"},{"k":"l","s":"Picardie","p":"Year","x":2.3,"y":4.43,"t":"0.4"},{"k":"l","s":"Picardie","p":"Year","x":2.3,"y":3.58,"t":"0.4"},{"k":"l","s":"Picardie","p":"Year","x":2.2,"y":2.75,"t":"0.3"},{"k":"l","s":"Picardie","p":"Year","x":2.9,"y":7.43,"t":"0.6"},{"k":"l","s":"Picardie","p":"Year","x":0.3,"y":2.3,"t":"0.2"},{"k":"l","s":"Picardie","p":"Year","x":0.8,"y":0.25,"t":"0.1"},{"k":"l","s":"Picardie","p":"Year","x":7.2,"y":6.88,"t":"0.8"},{"k":"l","s":"Picardie","p":"Year","x":7.2,"y":6.25,"t":"0.7"},{"k":"l","s":"Picardie","p":"Year","x":7.7,"y":5.0,"t":"0.7"},{"k":"l","s":"Picardie","p":"Year","x":7.2,"y":4.5,"t":"0.6"},{"k":"l","s":"Picardie","p":"Year","x":7.2,"y":3.75,"t":"0.5"},{"k":"l","s":"Picardie","p":"Year","x":7.2,"y":3.0,"t":"0.5"},{"k":"l","s":"Picardie","p":"Year","x":7.2,"y":2.13,"t":"0.4"},{"k":"l","s":"Picardie","p":"Year","x":7.2,"y":1.25,"t":"0.4"},{"k":"l","s":"Picardie","p":"Year","x":7.2,"y":0.38,"t":"0.3"},{"k":"l","s":"Picardie","p":"Year","x":7.6,"y":7.63,"t":"0.8"},
{"k":"l","s":"Picardie","p":"Vegetative phase","x":1.6,"y":5.5,"t":"0.9"},{"k":"l","s":"Picardie","p":"Vegetative phase","x":6.6,"y":4.2,"t":"0.9"},{"k":"l","s":"Picardie","p":"Vegetative phase","x":7.7,"y":5.5,"t":"0.8"},{"k":"l","s":"Picardie","p":"Vegetative phase","x":6.3,"y":7.0,"t":"0.8"},{"k":"l","s":"Picardie","p":"Vegetative phase","x":2.9,"y":7.8,"t":"0.8"},{"k":"l","s":"Picardie","p":"Vegetative phase","x":1.7,"y":0.1,"t":"0.9"},{"k":"l","s":"Picardie","p":"Vegetative phase","x":7.8,"y":7.85,"t":"0.5"},{"k":"l","s":"Picardie","p":"Vegetative phase","x":7.8,"y":7.6,"t":"0.6"},{"k":"l","s":"Picardie","p":"Vegetative phase","x":7.8,"y":7.35,"t":"0.6"},{"k":"l","s":"Picardie","p":"Vegetative phase","x":7.8,"y":7.1,"t":"0.7"},{"k":"l","s":"Picardie","p":"Vegetative phase","x":7.8,"y":6.85,"t":"0.7"},
{"k":"l","s":"Picardie","p":"Reproductive phase","x":0.5,"y":0.3,"t":"0.3"},{"k":"l","s":"Picardie","p":"Reproductive phase","x":0.6,"y":0.55,"t":"0.2"},{"k":"l","s":"Picardie","p":"Reproductive phase","x":0.7,"y":0.8,"t":"0.2"},{"k":"l","s":"Picardie","p":"Reproductive phase","x":0.8,"y":1.05,"t":"0.1"},{"k":"l","s":"Picardie","p":"Reproductive phase","x":1.9,"y":0.9,"t":"0.1"},{"k":"l","s":"Picardie","p":"Reproductive phase","x":1.9,"y":0.35,"t":"0.2"},{"k":"l","s":"Picardie","p":"Reproductive phase","x":3.1,"y":1.5,"t":"0.1"},{"k":"l","s":"Picardie","p":"Reproductive phase","x":4.9,"y":2.1,"t":"0.0"},{"k":"l","s":"Picardie","p":"Reproductive phase","x":2.0,"y":7.0,"t":"0.0"},{"k":"l","s":"Picardie","p":"Reproductive phase","x":0.8,"y":6.6,"t":"0.1"},{"k":"l","s":"Picardie","p":"Reproductive phase","x":0.5,"y":6.1,"t":"0.1"},{"k":"l","s":"Picardie","p":"Reproductive phase","x":0.4,"y":5.5,"t":"0.1"},{"k":"l","s":"Picardie","p":"Reproductive phase","x":0.45,"y":4.6,"t":"0.1"},{"k":"l","s":"Picardie","p":"Reproductive phase","x":6.8,"y":6.2,"t":"0.0"},
{"k":"l","s":"Katsina","p":"Year","x":2.87,"y":7.85,"t":"0.6"},{"k":"l","s":"Katsina","p":"Year","x":2.73,"y":7.16,"t":"0.7"},{"k":"l","s":"Katsina","p":"Year","x":2.98,"y":6.22,"t":"0.7"},{"k":"l","s":"Katsina","p":"Year","x":4.0,"y":5.13,"t":"0.8"},{"k":"l","s":"Katsina","p":"Year","x":2.73,"y":4.62,"t":"0.8"},{"k":"l","s":"Katsina","p":"Year","x":4.13,"y":3.1,"t":"0.9"},{"k":"l","s":"Katsina","p":"Year","x":7.7,"y":7.5,"t":"0.5"},{"k":"l","s":"Katsina","p":"Year","x":7.65,"y":6.8,"t":"0.6"},{"k":"l","s":"Katsina","p":"Year","x":7.7,"y":5.3,"t":"0.7"},{"k":"l","s":"Katsina","p":"Year","x":7.7,"y":3.0,"t":"0.8"},{"k":"l","s":"Katsina","p":"Year","x":0.24,"y":0.87,"t":"0.8"},{"k":"l","s":"Katsina","p":"Year","x":0.79,"y":1.43,"t":"0.8"},{"k":"l","s":"Katsina","p":"Year","x":3.26,"y":0.49,"t":"0.9"},{"k":"l","s":"Katsina","p":"Year","x":7.3,"y":0.05,"t":"0.9"},
{"k":"l","s":"Katsina","p":"Vegetative phase","x":0.99,"y":7.1,"t":"0.8"},{"k":"l","s":"Katsina","p":"Vegetative phase","x":7.0,"y":7.2,"t":"0.8"},{"k":"l","s":"Katsina","p":"Vegetative phase","x":0.7,"y":4.9,"t":"0.8"},{"k":"l","s":"Katsina","p":"Vegetative phase","x":1.05,"y":4.0,"t":"0.8"},{"k":"l","s":"Katsina","p":"Vegetative phase","x":1.84,"y":3.3,"t":"0.85"},{"k":"l","s":"Katsina","p":"Vegetative phase","x":2.17,"y":2.26,"t":"0.9"},{"k":"l","s":"Katsina","p":"Vegetative phase","x":5.0,"y":1.25,"t":"0.95"},{"k":"l","s":"Katsina","p":"Vegetative phase","x":7.0,"y":4.0,"t":"0.85"},{"k":"l","s":"Katsina","p":"Vegetative phase","x":7.3,"y":2.67,"t":"0.9"},{"k":"l","s":"Katsina","p":"Vegetative phase","x":0.26,"y":0.36,"t":"0.7"},
{"k":"l","s":"Katsina","p":"Reproductive phase","x":1.13,"y":7.6,"t":"0.7"},{"k":"l","s":"Katsina","p":"Reproductive phase","x":1.0,"y":6.73,"t":"0.6"},{"k":"l","s":"Katsina","p":"Reproductive phase","x":1.0,"y":6.2,"t":"0.5"},{"k":"l","s":"Katsina","p":"Reproductive phase","x":0.95,"y":5.8,"t":"0.4"},{"k":"l","s":"Katsina","p":"Reproductive phase","x":0.95,"y":5.4,"t":"0.3"},{"k":"l","s":"Katsina","p":"Reproductive phase","x":0.95,"y":5.05,"t":"0.2"},{"k":"l","s":"Katsina","p":"Reproductive phase","x":1.3,"y":4.2,"t":"0.1"},{"k":"l","s":"Katsina","p":"Reproductive phase","x":4.85,"y":7.4,"t":"0.9"},{"k":"l","s":"Katsina","p":"Reproductive phase","x":5.77,"y":4.8,"t":"0.7"},{"k":"l","s":"Katsina","p":"Reproductive phase","x":5.8,"y":4.2,"t":"0.6"},{"k":"l","s":"Katsina","p":"Reproductive phase","x":5.85,"y":3.8,"t":"0.5"},{"k":"l","s":"Katsina","p":"Reproductive phase","x":5.75,"y":3.1,"t":"0.4"},{"k":"l","s":"Katsina","p":"Reproductive phase","x":5.75,"y":2.6,"t":"0.3"},{"k":"l","s":"Katsina","p":"Reproductive phase","x":6.1,"y":1.8,"t":"0.2"},{"k":"l","s":"Katsina","p":"Reproductive phase","x":1.3,"y":1.6,"t":"0.0"},{"k":"l","s":"Katsina","p":"Reproductive phase","x":3.26,"y":1.88,"t":"0.0"},{"k":"l","s":"Katsina","p":"Reproductive phase","x":0.5,"y":0.56,"t":"0.1"},
{"k":"l","s":"Meath","p":"Year (Tmax)","x":2.57,"y":6.9,"t":"0.4"},{"k":"l","s":"Meath","p":"Year (Tmax)","x":2.5,"y":5.26,"t":"0.5"},{"k":"l","s":"Meath","p":"Year (Tmax)","x":2.07,"y":3.87,"t":"0.5"},{"k":"l","s":"Meath","p":"Year (Tmax)","x":1.52,"y":2.34,"t":"0.6"},{"k":"l","s":"Meath","p":"Year (Tmax)","x":2.2,"y":0.53,"t":"0.6"},{"k":"l","s":"Meath","p":"Year (Tmax)","x":7.65,"y":7.65,"t":"0.3"},{"k":"l","s":"Meath","p":"Year (Tmax)","x":7.06,"y":6.14,"t":"0.4"},{"k":"l","s":"Meath","p":"Year (Tmax)","x":7.35,"y":4.48,"t":"0.4"},{"k":"l","s":"Meath","p":"Year (Tmax)","x":7.35,"y":2.97,"t":"0.5"},{"k":"l","s":"Meath","p":"Year (Tmax)","x":6.86,"y":1.66,"t":"0.5"},{"k":"l","s":"Meath","p":"Year (Tmax)","x":6.46,"y":0.33,"t":"0.6"},
{"k":"l","s":"Meath","p":"Year (P-ETo)","x":2.67,"y":7.8,"t":"0.4"},{"k":"l","s":"Meath","p":"Year (P-ETo)","x":5.0,"y":7.5,"t":"0.45"},{"k":"l","s":"Meath","p":"Year (P-ETo)","x":5.9,"y":7.7,"t":"0.5"},{"k":"l","s":"Meath","p":"Year (P-ETo)","x":7.1,"y":7.77,"t":"0.55"},{"k":"l","s":"Meath","p":"Year (P-ETo)","x":0.7,"y":7.07,"t":"0.4"},{"k":"l","s":"Meath","p":"Year (P-ETo)","x":5.53,"y":5.63,"t":"0.4"},{"k":"l","s":"Meath","p":"Year (P-ETo)","x":7.56,"y":5.43,"t":"0.45"},{"k":"l","s":"Meath","p":"Year (P-ETo)","x":5.8,"y":4.68,"t":"0.4"},{"k":"l","s":"Meath","p":"Year (P-ETo)","x":0.7,"y":4.86,"t":"0.4"},{"k":"l","s":"Meath","p":"Year (P-ETo)","x":5.13,"y":3.85,"t":"0.35"},{"k":"l","s":"Meath","p":"Year (P-ETo)","x":0.65,"y":2.74,"t":"0.35"},{"k":"l","s":"Meath","p":"Year (P-ETo)","x":7.07,"y":1.9,"t":"0.3"},{"k":"l","s":"Meath","p":"Year (P-ETo)","x":2.37,"y":0.83,"t":"0.3"},
{"k":"l","s":"Meath","p":"Year (Rad)","x":2.67,"y":7.75,"t":"0.5"},{"k":"l","s":"Meath","p":"Year (Rad)","x":1.62,"y":7.25,"t":"0.5"},{"k":"l","s":"Meath","p":"Year (Rad)","x":1.54,"y":6.14,"t":"0.55"},{"k":"l","s":"Meath","p":"Year (Rad)","x":2.47,"y":4.55,"t":"0.6"},{"k":"l","s":"Meath","p":"Year (Rad)","x":2.43,"y":3.35,"t":"0.65"},{"k":"l","s":"Meath","p":"Year (Rad)","x":2.47,"y":1.8,"t":"0.7"},{"k":"l","s":"Meath","p":"Year (Rad)","x":6.48,"y":5.1,"t":"0.5"},{"k":"l","s":"Meath","p":"Year (Rad)","x":6.48,"y":4.23,"t":"0.55"},{"k":"l","s":"Meath","p":"Year (Rad)","x":6.7,"y":7.6,"t":"0.45"}
]},
"hconcat": [
  {"data": {"values": [{}]}, "width": 2, "height": 520, "view": {"stroke": null},
   "mark": {"type": "rule", "color": "#8484b8", "strokeWidth": 1.6},
   "encoding": {"x": {"datum": 1, "type": "quantitative", "scale": {"domain": [0, 2]}, "axis": null},
                "y": {"datum": -2, "type": "quantitative", "scale": {"domain": [0, 10]}, "axis": null},
                "y2": {"datum": 11}}},
  {"vconcat": [
    {"data": {"name": "d"},
     "transform": [{"filter": "datum.s != 'Meath'"}],
     "facet": {
       "row": {"field": "s", "type": "nominal", "sort": ["Kaolack", "Picardie", "Katsina"],
               "header": {"title": null, "labelAngle": 0, "labelFontSize": 19, "labelFontWeight": "bold", "labelAlign": "right", "labelBaseline": "middle", "labelPadding": -62, "labelColor": "#000", "labelFont": "Liberation Sans"}},
       "column": {"field": "p", "type": "nominal", "sort": ["Year", "Vegetative phase", "Reproductive phase"],
               "header": {"title": null, "labelFontSize": 17, "labelFontWeight": "bold", "labelExpr": "datum.value == 'Year' ? ['Year', '\u200b'] : [split(datum.value, ' ')[0], '\u200b', split(datum.value, ' ')[1]]", "labelLineHeight": 9, "labelBaseline": "middle", "labelPadding": -16, "labelColor": "#000", "labelFont": "Liberation Sans"}}
     },
     "spacing": {"row": -4.5, "column": 9.5},
     "resolve": {"axis": {"x": "independent", "y": "independent"}},
     "spec": {
       "width": 135, "height": 106,
       "layer": [
         {"transform": [{"filter": "datum.k == 'r'"}],
          "mark": {"type": "area", "orient": "vertical", "clip": true, "stroke": "#333", "strokeWidth": 0.35, "strokeOpacity": 0.7},
          "encoding": {
            "x": {"field": "x", "type": "quantitative", "scale": {"domain": [0, 8], "nice": false, "zero": false}, "axis": {"values": [0,1,2,3,4,5,6,7,8]}, "title": "Integration over time [10 days]"},
            "y": {"field": "hi", "type": "quantitative", "stack": null, "scale": {"domain": [0, 8], "nice": false, "zero": false}, "axis": {"values": [0,1,2,3,4,5,6,7,8]}, "title": "Shift in time [10 days]"},
            "y2": {"field": "lo"},
            "color": {"field": "v", "type": "quantitative", "scale": {"type": "linear", "domain": [0, 0.125, 0.375, 0.625, 0.875, 1], "range": ["#000080", "#0000ff", "#00ffff", "#ffff00", "#ff0000", "#800000"], "interpolate": "rgb"}, "legend": null},
            "detail": {"field": "g", "type": "nominal"}
          }},
         {"transform": [{"filter": "datum.k == 'l'"}],
          "mark": {"type": "point", "shape": "M-1,-0.65L1,-0.65L1,0.65L-1,0.65Z", "size": 42, "filled": true, "fill": "white", "stroke": "#999", "strokeWidth": 0.4, "opacity": 1, "angle": 20},
          "encoding": {"x": {"field": "x", "type": "quantitative", "title": "Integration over time [10 days]"}, "y": {"field": "y", "type": "quantitative", "title": "Shift in time [10 days]"}}},
         {"transform": [{"filter": "datum.k == 'l'"}],
          "mark": {"type": "text", "fontSize": 2.6, "color": "#444", "angle": 20, "align": "center", "baseline": "middle"},
          "encoding": {"x": {"field": "x", "type": "quantitative", "title": "Integration over time [10 days]"}, "y": {"field": "y", "type": "quantitative", "title": "Shift in time [10 days]"}, "text": {"field": "t"}}},
         {"transform": [{"filter": "datum.k == 'o'"}],
          "mark": {"type": "text", "fontSize": 12.5, "fontWeight": "bold", "color": "#000", "align": "left", "baseline": "middle", "font": "Liberation Sans"},
          "encoding": {"x": {"field": "x", "type": "quantitative", "title": "Integration over time [10 days]"}, "y": {"field": "y", "type": "quantitative", "title": "Shift in time [10 days]"}, "text": {"field": "t"}}},
         {"transform": [{"filter": "datum.k == 't'"}],
          "mark": {"type": "text", "fontSize": 3.3, "color": "#333", "align": "center", "baseline": "bottom", "dy": -1},
          "encoding": {"x": {"datum": 4, "type": "quantitative"}, "y": {"datum": 8, "type": "quantitative"}, "text": {"field": "t"}}},
         {"transform": [{"filter": "datum.k == 't'"}],
          "mark": {"type": "rule", "color": "#f0d4d4", "strokeWidth": 1, "clip": false},
          "encoding": {"x": {"datum": 8.95, "type": "quantitative"}, "y": {"datum": -1, "type": "quantitative"}, "y2": {"datum": 9}}}
       ]
     }},
    {"data": {"name": "d"},
     "transform": [{"filter": "datum.s == 'Meath'"}],
     "facet": {
       "row": {"field": "s", "type": "nominal",
               "header": {"title": null, "labelAngle": 0, "labelFontSize": 19, "labelFontWeight": "bold", "labelAlign": "right", "labelBaseline": "middle", "labelPadding": -43, "labelColor": "#000", "labelFont": "Liberation Sans"}},
       "column": {"field": "p", "type": "nominal", "sort": ["Year (Tmax)", "Year (P-ETo)", "Year (Rad)"],
               "header": {"title": null, "labelFontSize": 17, "labelFontWeight": "bold", "labelExpr": "split(datum.value, ' ')[0]", "labelBaseline": "middle", "labelPadding": -11, "labelColor": "#000", "labelFont": "Liberation Sans"}}
     },
     "spacing": {"row": -4.5, "column": 9.5},
     "resolve": {"axis": {"x": "independent", "y": "independent"}},
     "spec": {
       "width": 135, "height": 106,
       "layer": [
         {"transform": [{"filter": "datum.k == 'r'"}],
          "mark": {"type": "area", "orient": "vertical", "clip": true, "stroke": "#333", "strokeWidth": 0.35, "strokeOpacity": 0.7},
          "encoding": {
            "x": {"field": "x", "type": "quantitative", "scale": {"domain": [0, 8], "nice": false, "zero": false}, "axis": {"values": [0,1,2,3,4,5,6,7,8]}, "title": "Integration over time [10 days]"},
            "y": {"field": "hi", "type": "quantitative", "stack": null, "scale": {"domain": [0, 8], "nice": false, "zero": false}, "axis": {"values": [0,1,2,3,4,5,6,7,8]}, "title": "Shift in time [10 days]"},
            "y2": {"field": "lo"},
            "color": {"field": "v", "type": "quantitative", "scale": {"type": "linear", "domain": [0, 0.125, 0.375, 0.625, 0.875, 1], "range": ["#000080", "#0000ff", "#00ffff", "#ffff00", "#ff0000", "#800000"], "interpolate": "rgb"}, "legend": null},
            "detail": {"field": "g", "type": "nominal"}
          }},
         {"transform": [{"filter": "datum.k == 'l'"}],
          "mark": {"type": "point", "shape": "M-1,-0.65L1,-0.65L1,0.65L-1,0.65Z", "size": 42, "filled": true, "fill": "white", "stroke": "#999", "strokeWidth": 0.4, "opacity": 1, "angle": 20},
          "encoding": {"x": {"field": "x", "type": "quantitative", "title": "Integration over time [10 days]"}, "y": {"field": "y", "type": "quantitative", "title": "Shift in time [10 days]"}}},
         {"transform": [{"filter": "datum.k == 'l'"}],
          "mark": {"type": "text", "fontSize": 2.6, "color": "#444", "angle": 20, "align": "center", "baseline": "middle"},
          "encoding": {"x": {"field": "x", "type": "quantitative", "title": "Integration over time [10 days]"}, "y": {"field": "y", "type": "quantitative", "title": "Shift in time [10 days]"}, "text": {"field": "t"}}},
         {"transform": [{"filter": "datum.k == 'o'"}],
          "mark": {"type": "text", "fontSize": 12.5, "fontWeight": "bold", "color": "#000", "align": "left", "baseline": "middle", "font": "Liberation Sans"},
          "encoding": {"x": {"field": "x", "type": "quantitative", "title": "Integration over time [10 days]"}, "y": {"field": "y", "type": "quantitative", "title": "Shift in time [10 days]"}, "text": {"field": "t"}}},
         {"transform": [{"filter": "datum.k == 't'"}],
          "mark": {"type": "text", "fontSize": 3.3, "color": "#333", "align": "center", "baseline": "bottom", "dy": -1},
          "encoding": {"x": {"datum": 4, "type": "quantitative"}, "y": {"datum": 8, "type": "quantitative"}, "text": {"field": "t"}}},
         {"transform": [{"filter": "datum.k == 't'"}],
          "mark": {"type": "rule", "color": "#f0d4d4", "strokeWidth": 1, "clip": false},
          "encoding": {"x": {"datum": 8.95, "type": "quantitative"}, "y": {"datum": -1, "type": "quantitative"}, "y2": {"datum": 9}}}
       ]
     }}
  ], "spacing": 7}
],
"spacing": 8
}
